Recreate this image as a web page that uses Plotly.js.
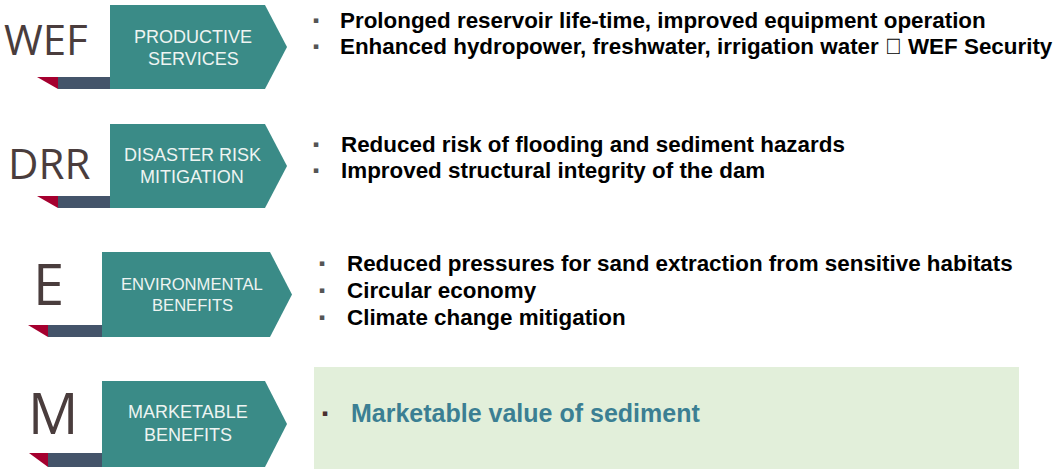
<!DOCTYPE html>
<html>
<head>
<meta charset="utf-8">
<script src="https://cdn.plot.ly/plotly-3.0.1.min.js"></script>
<style>html,body{margin:0;padding:0;background:#fff;}#chart{width:1062px;height:469px;}</style>
</head>
<body>
<div id="chart"></div>
<script>
// ---- content ----
const codes = ["WEF", "DRR", "E", "M"];
const categoryLine1 = ["PRODUCTIVE", "DISASTER RISK", "ENVIRONMENTAL", "MARKETABLE"];
const categoryLine2 = ["SERVICES", "MITIGATION", "BENEFITS", "BENEFITS"];
const bulletsWEF = ["Prolonged reservoir life-time, improved equipment operation",
                    "Enhanced hydropower, freshwater, irrigation water \uF0E0 WEF Security"];
const bulletsDRR = ["Reduced risk of flooding and sediment hazards",
                    "Improved structural integrity of the dam"];
const bulletsE = ["Reduced pressures for sand extraction from sensitive habitats",
                  "Circular economy",
                  "Climate change mitigation"];
const bulletsM = ["Marketable value of sediment"];
const bulletLists = [bulletsWEF, bulletsDRR, bulletsE, bulletsM];

// ---- geometry (layout only) ----
const rows = [
  {top:5,   bot:89,  left:110, arrow:265, tip:287, barL:58, redL:37, barT:77,  codeX:46, codeY:38,  codeSize:42, catX:193, catY:[37,59],   catSize:18, bx:316, tx:338, ly:[20,46]},
  {top:124, bot:208, left:110, arrow:265, tip:287, barL:58, redL:37, barT:196, codeX:49, codeY:162, codeSize:42, catX:192, catY:[155,177], catSize:18, bx:316, tx:339, ly:[144,170]},
  {top:252, bot:337, left:102, arrow:270, tip:292, barL:48, redL:28, barT:325, codeX:48, codeY:283, codeSize:56, catX:192, catY:[284,305], catSize:16.6, bx:322, tx:345, ly:[263,290,317]},
  {top:381, bot:467, left:102, arrow:265, tip:287, barL:48, redL:29, barT:453, codeX:53, codeY:412, codeSize:56, catX:188, catY:[412,435], catSize:18, bx:325, tx:349, ly:[413]}
];
const greenBox = {x0:314, x1:1019, y0:367, y1:469};

const TEAL = "#3A8B87", SLATE = "#44546A", RED = "#A5002F", GREEN = "#E2EFDA";
const shapes = [];
const annotations = [];

shapes.push({type:"rect", xref:"x", yref:"y", x0:greenBox.x0, x1:greenBox.x1, y0:greenBox.y0, y1:greenBox.y1,
             fillcolor:GREEN, line:{width:0}, layer:"below"});

rows.forEach((r, i) => {
  const mid = (r.top + r.bot) / 2;
  shapes.push({type:"rect", x0:r.barL, x1:r.left, y0:r.barT, y1:r.bot, fillcolor:SLATE, line:{width:0}});
  shapes.push({type:"path", path:`M ${r.redL} ${r.barT} L ${r.barL} ${r.barT} L ${r.barL} ${r.bot} Z`, fillcolor:RED, line:{width:0}});
  shapes.push({type:"path", path:`M ${r.left} ${r.top} L ${r.arrow} ${r.top} L ${r.tip} ${mid} L ${r.arrow} ${r.bot} L ${r.left} ${r.bot} Z`,
               fillcolor:TEAL, line:{width:0}});
  annotations.push({x:r.codeX, y:r.codeY, text:codes[i], showarrow:false, xanchor:"center", yanchor:"middle",
                    font:{family:"Open Sans, Noto Sans, sans-serif", size:r.codeSize, color:"#4A3D3D"}});
  [categoryLine1[i], categoryLine2[i]].forEach((t, k) => {
    annotations.push({x:r.catX, y:r.catY[k], text:t, showarrow:false, xanchor:"center", yanchor:"middle",
                      font:{family:"Liberation Sans, Arial, sans-serif", size:r.catSize, color:"#EEF4F2"}});
  });
  const isM = i === 3;
  bulletLists[i].forEach((t, k) => {
    annotations.push({x:r.bx, y:r.ly[k], text:"\u25AA", showarrow:false, xanchor:"center", yanchor:"middle",
                      font:{family:"DejaVu Sans, sans-serif", size:9, color: isM ? "#4A3030" : "#555555"}});
    annotations.push({x:r.tx, y:r.ly[k], text:"<b>" + t + "</b>", showarrow:false, xanchor:"left", yanchor:"middle",
                      font:{family:"Liberation Sans, Arial, sans-serif", size: isM ? 25 : 22.4, color: isM ? "#3B7F93" : "#000000"}});
  });
});

const layout = {
  width:1062, height:469,
  margin:{l:0, r:0, t:0, b:0, pad:0},
  paper_bgcolor:"#ffffff", plot_bgcolor:"#ffffff",
  xaxis:{range:[0,1062], visible:false, fixedrange:true},
  yaxis:{range:[469,0], visible:false, fixedrange:true},
  showlegend:false,
  shapes:shapes,
  annotations:annotations
};
Plotly.newPlot("chart", [{x:[], y:[], type:"scatter"}], layout, {staticPlot:true, displayModeBar:false});
</script>
</body>
</html>
